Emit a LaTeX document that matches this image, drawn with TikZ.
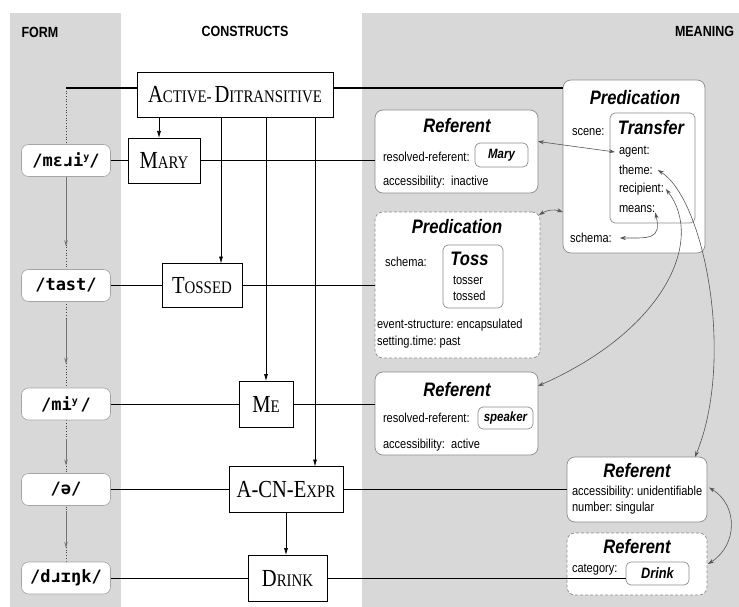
\documentclass[tikz,border=0pt]{standalone}
\usepackage{fontspec}
\setmainfont{Liberation Serif}[FakeStretch=0.84]
\newfontfamily\msans{Liberation Sans}[FakeStretch=0.85]
\newfontfamily\mmono{DejaVu Sans Mono}
\usetikzlibrary{arrows.meta,calc}
\definecolor{bg}{RGB}{216,216,216}
\definecolor{bordergray}{RGB}{140,140,140}
\definecolor{formgray}{RGB}{165,165,165}
\definecolor{curvegray}{RGB}{85,85,85}
\newcommand{\Bsc}[1]{{\fontsize{24.5}{26}\selectfont #1}}
\newcommand{\Ssc}[1]{{\fontsize{17.7}{20}\selectfont #1}}
\newcommand{\ftxt}{\mmono\bfseries\fontsize{17}{19}\selectfont}
\newcommand{\supy}{\raisebox{6pt}{\fontsize{10}{10}\selectfont y}}
\tikzset{
  hdr/.style={font=\msans\bfseries\fontsize{14.7}{16}\selectfont},
  fbox/.style={draw=formgray, line width=0.6pt, fill=white, rounded corners=7pt, minimum width=89pt, minimum height=32pt, font=\ftxt},
  cbox/.style={draw=black, line width=0.8pt, fill=white},
  mbox/.style={draw=bordergray, line width=0.7pt, fill=white, rounded corners=8pt},
  mdash/.style={mbox, dash pattern=on 3pt off 2pt},
  ibox/.style={draw=bordergray, line width=0.7pt, fill=white, rounded corners=5pt},
  mtitle/.style={font=\msans\bfseries\itshape\fontsize{19.5}{21}\selectfont},
  mtxt/.style={font=\msans\fontsize{13}{15}\selectfont, anchor=west},
  ival/.style={font=\msans\bfseries\itshape\fontsize{13.5}{15}\selectfont},
  carr/.style={-{Latex[length=7pt,width=4pt]}, line width=0.7pt},
  lite/.style={line width=0.7pt},
  heavy/.style={line width=1.4pt},
  dbl/.style={{Stealth[length=6pt,width=4pt]}-{Stealth[length=6pt,width=4pt]}, draw=curvegray, line width=0.6pt},
  fdot/.style={draw=black!75, line width=0.7pt, dotted},
  farr/.style={draw=black!55, line width=0.9pt, -{Stealth[length=6pt,width=3.5pt]}},
}
\begin{document}
\begin{tikzpicture}[x=1pt,y=-1pt, every node/.style={inner sep=0pt, outer sep=0pt}]
\useasboundingbox (0,0) rectangle (739,607);
\fill[white] (0,0) rectangle (739,607);
\fill[bg] (10,13) rectangle (121,607);
\fill[bg] (362,13) rectangle (739,607);

% headers
\node[hdr, anchor=west] (hF) at (21.5,32) {FORM};
\node[hdr] (hC) at (245,31) {CONSTRUCTS};
\node[hdr, anchor=east] (hM) at (734,31) {MEANING};

% form column
\coordinate (fTop) at (66,88);
\coordinate (fBot) at (66,562);
\draw[fdot] (fTop) -- (fBot);
\node[fbox] (f1) at (66,160.5) {/mɛɹi\supy/};
\node[fbox] (f2) at (66,285.5) {/tast/};
\node[fbox] (f3) at (66,404) {/mi\supy\,/};
\node[fbox] (f4) at (66,489.5) {/ə/};
\node[fbox] (f5) at (66,578) {/dɹɪŋk/};
\draw[farr] (f1.south) -- ($(f1.south)!0.75!(f2.north)$);
\draw[farr] ($(f2.south)!0.2!(f3.north)$) -- ($(f2.south)!0.72!(f3.north)$);
\draw[farr] ($(f3.south)!0.35!(f4.north)$) -- ($(f3.south)!0.85!(f4.north)$);
\draw[farr] ($(f4.south)!0.1!(f5.north)$) -- ($(f4.south)!0.75!(f5.north)$);

% constructs
\node[cbox, minimum width=196pt, minimum height=45pt] (AD) at (235,94.5) {\Bsc{A}\Ssc{CTIVE-}\hspace{3pt}\Bsc{D}\Ssc{ITRANSITIVE}};
\node[cbox, minimum width=72pt, minimum height=45pt] (MARY) at (164,160.5) {\Bsc{M}\Ssc{ARY}};
\node[cbox, minimum width=80pt, minimum height=44pt] (TOSSED) at (202,285.5) {\Bsc{T}\Ssc{OSSED}};
\node[cbox, minimum width=54pt, minimum height=46pt] (ME) at (266,404) {\Bsc{M}\Ssc{E}};
\node[cbox, minimum width=114pt, minimum height=46pt] (ACN) at (286,489.5) {\Bsc{A-CN-E}\Ssc{XPR}};
\node[cbox, minimum width=79pt, minimum height=46pt] (DRINK) at (287.5,578) {\Bsc{D}\Ssc{RINK}};

\draw[carr] ([xshift=-5pt]MARY.north |- AD.south) -- ([xshift=-5pt]MARY.north);
\draw[carr] ([xshift=19pt]TOSSED.north |- AD.south) -- ([xshift=19pt]TOSSED.north);
\draw[carr] (ME.north |- AD.south) -- (ME.north);
\draw[carr] ([xshift=29pt]ACN.north |- AD.south) -- ([xshift=29pt]ACN.north);
\draw[carr] (ACN.south) -- (ACN.south |- DRINK.north);

% meaning boxes
\node[mbox, minimum width=142pt, minimum height=173pt] (PT) at (634,166.5) {};
\node[ibox, minimum width=85pt, minimum height=110pt] (TI) at (652.5,168) {};
\node[mbox, minimum width=163pt, minimum height=83pt] (RM) at (456.5,151.5) {};
\node[ibox, ival, minimum width=53pt, minimum height=24pt] (MI) at (501.5,155) {Mary};
\node[mbox, mdash, minimum width=165pt, minimum height=146pt] (PS) at (457.5,285) {};
\node[ibox, minimum width=60pt, minimum height=63pt] (TB) at (473,276.5) {};
\node[mbox, minimum width=163pt, minimum height=83pt] (RS) at (456.5,413.5) {};
\node[ibox, ival, minimum width=55pt, minimum height=22pt] (SI) at (505.5,418) {speaker};
\node[mbox, minimum width=140pt, minimum height=65pt] (RU) at (637,489.5) {};
\node[mbox, mdash, minimum width=140pt, minimum height=62pt] (RD) at (637,564) {};
\node[ibox, ival, font=\msans\bfseries\itshape\fontsize{15}{17}\selectfont, minimum width=63pt, minimum height=23pt] (dI) at (657.5,573.5) {Drink};

% lines constructs -> meaning
\draw[heavy] (fTop) -- (fTop -| AD.west);
\draw[heavy] (AD.east |- fTop) -- (PT.west |- fTop);
\draw[lite] (f1) -- (MARY);
\draw[lite] (MARY.east) -- (MARY.east -| RM.west);
\draw[lite] (f2) -- (TOSSED);
\draw[lite] (TOSSED.east) -- (TOSSED.east -| PS.west);
\draw[lite] (f3) -- (ME);
\draw[lite] (ME.east) -- (ME.east -| RS.west);
\draw[heavy] (f4) -- (ACN);
\draw[heavy] (ACN.east) -- (ACN.east -| RU.west);
\draw[lite] (f5) -- (DRINK);
\draw[lite] (DRINK.east) -- (DRINK.east -| dI.west);

% meaning texts
\node[mtitle] (PTt) at (635,98) {Predication};
\node[mtxt] (scene) at (572,132) {scene:};
\node[mtitle] (TIt) at (651,128) {Transfer};
\node[mtxt] (agent) at (619,152) {agent:};
\node[mtxt] (theme) at (619,170) {theme:};
\node[mtxt] (recip) at (619,189) {recipient:};
\node[mtxt] (means) at (619,209) {means:};
\node[mtxt] (schemaT) at (570,238) {schema:};

\node[mtitle] (RMt) at (457,126) {Referent};
\node[mtxt] (RMr) at (383,157) {resolved-referent:};
\node[mtxt] (RMa) at (383,182) {accessibility:\ \ inactive};

\node[mtitle] (PSt) at (457,227) {Predication};
\node[mtxt] (PSs) at (385,262) {schema:};
\node[mtitle] (TBt) at (469.5,259) {Toss};
\node[mtxt] (TB1) at (453,280) {tosser};
\node[mtxt] (TB2) at (453,296) {tossed};
\node[mtxt] (PSe) at (377,325) {event-structure:\ encapsulated};
\node[mtxt] (PSx) at (377,342) {setting.time:\ past};

\node[mtitle] (RSt) at (457,390) {Referent};
\node[mtxt] (RSr) at (383,418) {resolved-referent:};
\node[mtxt] (RSa) at (383,445) {accessibility:\ \ active};

\node[mtitle] (RUt) at (637,471) {Referent};
\node[mtxt] (RUa) at (572,492) {accessibility:\ unidentifiable};
\node[mtxt] (RUn) at (572,508) {number:\ singular};

\node[mtitle] (RDt) at (637,547) {Referent};
\node[mtxt] (RDc) at (572,570) {category:};

% curved links
\draw[dbl] ([yshift=10pt]RM.east) -- ([xshift=-4pt]agent.west);
\draw[dbl] ([xshift=-1pt,yshift=-3pt]PS.north east) to[bend left=25] (PT.west |- PS.north east);
\draw[dbl] (means.south east) .. controls (662,240) and (648,238) .. ([xshift=8pt]schemaT.east);
\draw[dbl] ([xshift=5pt]theme.east) .. controls (705,200) and (735,360) .. ([xshift=-12pt]RU.north east);
\draw[dbl] ([xshift=2pt]recip.east) .. controls (705,240) and (665,330) .. ([yshift=-14pt]RS.north east);
\draw[dbl] ([xshift=2pt,yshift=2pt]RU.east) .. controls (738,505) and (738,545) .. ([xshift=1pt]RD.east);
\end{tikzpicture}
\end{document}
